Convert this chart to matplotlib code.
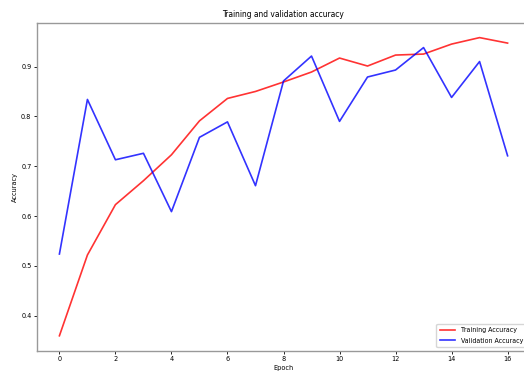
import numpy as np
import matplotlib
matplotlib.use("Agg")
import matplotlib.pyplot as plt

epochs = list(range(17))
train_acc = [0.360, 0.522, 0.623, 0.671, 0.723, 0.791, 0.836, 0.850, 0.869, 0.889,
             0.917, 0.901, 0.923, 0.925, 0.945, 0.958, 0.947]
val_acc = [0.524, 0.834, 0.713, 0.726, 0.609, 0.758, 0.789, 0.661, 0.871, 0.921,
           0.790, 0.879, 0.893, 0.938, 0.838, 0.910, 0.721]

plt.rcParams['font.family'] = 'DejaVu Sans'
plt.rcParams['font.stretch'] = 'condensed'

fig = plt.figure(figsize=(5.24, 3.76), dpi=100)
# axes runs a little past the right edge, like the cropped original
ax = fig.add_axes([37/524, 1 - 350.7/376, 493/524, 328/376])

ax.plot(epochs, train_acc, color='red', lw=1.2, alpha=0.8, label='Training Accuracy')
ax.plot(epochs, val_acc, color='blue', lw=1.2, alpha=0.8, label='Validation Accuracy')

ax.set_title('Training and validation accuracy', fontsize=6, pad=4)
ax.set_xlabel('Epoch', fontsize=5.2, labelpad=2)
ax.set_ylabel('Accuracy', fontsize=5.2, labelpad=2)
ax.set_xticks(range(0, 17, 2))
ax.set_yticks([0.4, 0.5, 0.6, 0.7, 0.8, 0.9])
ax.tick_params(labelsize=5.2, length=2, width=0.6, pad=2)
for sp in ax.spines.values():
    sp.set_color('#999999')
    sp.set_linewidth(1.0)
ax.spines['right'].set_visible(False)
ax.legend(loc='lower right', fontsize=5, handlelength=2.2, borderpad=0.5,
          labelspacing=0.65)

fig.savefig('out.png', dpi=100)
